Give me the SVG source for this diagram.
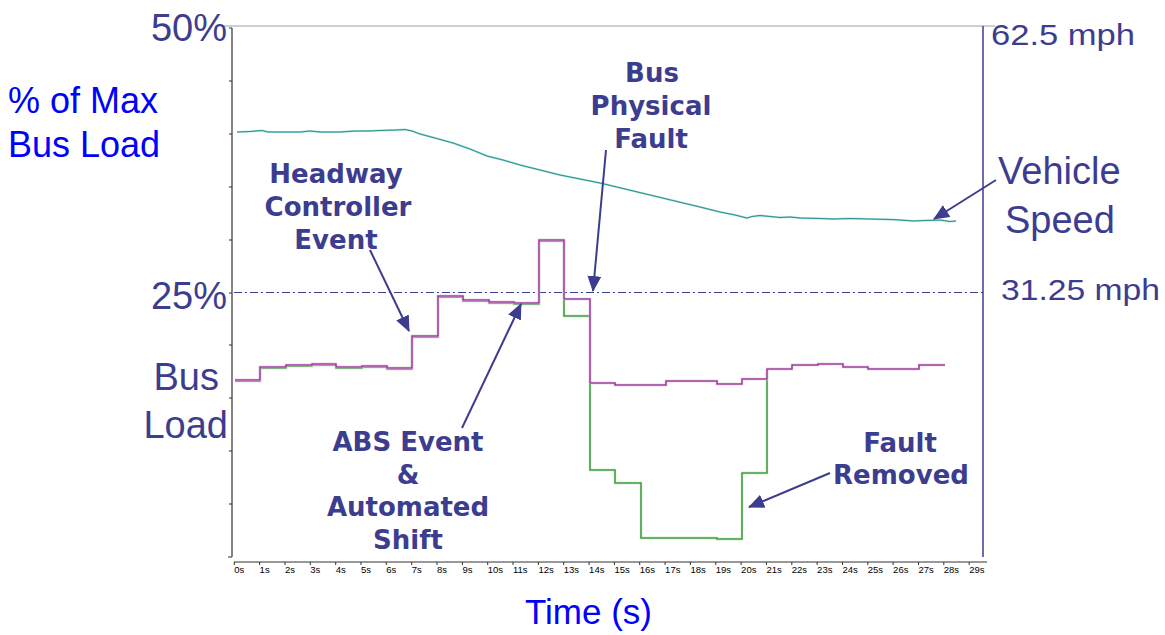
<svg xmlns="http://www.w3.org/2000/svg" width="1165" height="635" viewBox="0 0 1165 635">
<defs>
<style>
.lbl{font-family:"Liberation Sans",Arial,sans-serif;fill:#3d3d8f}
.blue{font-family:"Liberation Sans",Arial,sans-serif;fill:#0000ff}
.ann{font-family:"DejaVu Sans",Verdana,sans-serif;font-weight:bold;font-size:26px;fill:#3d3d8f;text-anchor:middle}
.tk{font-family:"Liberation Sans",Arial,sans-serif;font-size:9.5px;fill:#000}
.arrow{stroke:#3d3d8f;stroke-width:2;fill:none;marker-end:url(#ah)}
</style>
<marker id="ah" viewBox="0 0 16 14" refX="15" refY="7" markerWidth="16" markerHeight="14" markerUnits="userSpaceOnUse" orient="auto">
<path d="M0,0 L16,7 L0,14 Z" fill="#3d3d8f"/>
</marker>
</defs>
<rect width="1165" height="635" fill="#fff"/>

<g id="axes">
<line x1="223" y1="26" x2="995" y2="26" stroke="#cfcfcf" stroke-width="2"/>
<line x1="232" y1="28" x2="232" y2="557" stroke="#333" stroke-width="1.2"/>
<g stroke="#333" stroke-width="1">
<line x1="229" y1="28" x2="232" y2="28"/><line x1="229" y1="81" x2="232" y2="81"/><line x1="229" y1="134" x2="232" y2="134"/><line x1="229" y1="187" x2="232" y2="187"/><line x1="229" y1="240" x2="232" y2="240"/><line x1="229" y1="293" x2="232" y2="293"/><line x1="229" y1="345" x2="232" y2="345"/><line x1="229" y1="398" x2="232" y2="398"/><line x1="229" y1="451" x2="232" y2="451"/><line x1="229" y1="504" x2="232" y2="504"/><line x1="228" y1="557" x2="232" y2="557"/>
</g>
<line x1="983" y1="26" x2="983" y2="557" stroke="#3d3d8f" stroke-width="1.5"/>
<line x1="234" y1="562" x2="987" y2="562" stroke="#333" stroke-width="1"/>
<g stroke="#333" stroke-width="1">
<line x1="234.3" y1="562" x2="234.3" y2="565"/><line x1="259.6" y1="562" x2="259.6" y2="565"/><line x1="285" y1="562" x2="285" y2="565"/><line x1="310.3" y1="562" x2="310.3" y2="565"/><line x1="335.7" y1="562" x2="335.7" y2="565"/><line x1="361" y1="562" x2="361" y2="565"/><line x1="386.3" y1="562" x2="386.3" y2="565"/><line x1="411.7" y1="562" x2="411.7" y2="565"/><line x1="437" y1="562" x2="437" y2="565"/><line x1="462.4" y1="562" x2="462.4" y2="565"/><line x1="487.7" y1="562" x2="487.7" y2="565"/><line x1="513" y1="562" x2="513" y2="565"/><line x1="538.4" y1="562" x2="538.4" y2="565"/><line x1="563.7" y1="562" x2="563.7" y2="565"/><line x1="589.1" y1="562" x2="589.1" y2="565"/><line x1="614.4" y1="562" x2="614.4" y2="565"/><line x1="639.7" y1="562" x2="639.7" y2="565"/><line x1="665.1" y1="562" x2="665.1" y2="565"/><line x1="690.4" y1="562" x2="690.4" y2="565"/><line x1="715.8" y1="562" x2="715.8" y2="565"/><line x1="741.1" y1="562" x2="741.1" y2="565"/><line x1="766.4" y1="562" x2="766.4" y2="565"/><line x1="791.8" y1="562" x2="791.8" y2="565"/><line x1="817.1" y1="562" x2="817.1" y2="565"/><line x1="842.5" y1="562" x2="842.5" y2="565"/><line x1="867.8" y1="562" x2="867.8" y2="565"/><line x1="893.1" y1="562" x2="893.1" y2="565"/><line x1="918.5" y1="562" x2="918.5" y2="565"/><line x1="943.8" y1="562" x2="943.8" y2="565"/><line x1="969.2" y1="562" x2="969.2" y2="565"/>
</g>
<g class="tk">
<text x="234.3" y="573">0s</text><text x="259.6" y="573">1s</text><text x="285" y="573">2s</text><text x="310.3" y="573">3s</text><text x="335.7" y="573">4s</text><text x="361" y="573">5s</text><text x="386.3" y="573">6s</text><text x="411.7" y="573">7s</text><text x="437" y="573">8s</text><text x="462.4" y="573">9s</text><text x="487.7" y="573">10s</text><text x="513" y="573">11s</text><text x="538.4" y="573">12s</text><text x="563.7" y="573">13s</text><text x="589.1" y="573">14s</text><text x="614.4" y="573">15s</text><text x="639.7" y="573">16s</text><text x="665.1" y="573">17s</text><text x="690.4" y="573">18s</text><text x="715.8" y="573">19s</text><text x="741.1" y="573">20s</text><text x="766.4" y="573">21s</text><text x="791.8" y="573">22s</text><text x="817.1" y="573">23s</text><text x="842.5" y="573">24s</text><text x="867.8" y="573">25s</text><text x="893.1" y="573">26s</text><text x="918.5" y="573">27s</text><text x="943.8" y="573">28s</text><text x="969.2" y="573">29s</text>
</g>
<line x1="234" y1="292.5" x2="983" y2="292.5" stroke="#3d3d8f" stroke-width="1.2" stroke-dasharray="8 3 2 3"/>
</g>

<g id="vehicle-speed-line">
<polyline fill="none" stroke="#a8dcda" stroke-width="2.2" points="237,132 250,131.5 262,130.5 268,132 300,132 310,131 320,132 340,132 355,131 370,131 380,130.5 395,130 405,129.5 412,131 420,134 435,138 453,143 470,149 487,156 503,160 520,165 540,170 560,175 580,179 600,183 625,189 650,195 675,201 700,207 720,212 735,215 747,218 752,216.5 760,215.5 770,216.5 780,217.5 790,217 800,218 820,218.5 833,219 850,218.5 870,219 890,219.5 900,220 913,221 925,220.5 940,220 950,221.5 956,221"/>
<polyline fill="none" stroke="#26928f" stroke-width="1" points="237,132 250,131.5 262,130.5 268,132 300,132 310,131 320,132 340,132 355,131 370,131 380,130.5 395,130 405,129.5 412,131 420,134 435,138 453,143 470,149 487,156 503,160 520,165 540,170 560,175 580,179 600,183 625,189 650,195 675,201 700,207 720,212 735,215 747,218 752,216.5 760,215.5 770,216.5 780,217.5 790,217 800,218 820,218.5 833,219 850,218.5 870,219 890,219.5 900,220 913,221 925,220.5 940,220 950,221.5 956,221"/>
</g>

<g id="bus-load-lines">
<path fill="none" stroke="#b5ddb5" stroke-width="2.4" d="M235,381 H260 V368 H286 V366 H312 V365 H336 V368 H362 V367 H387 V369 H412 V337 H438 V297 H463 V301 H489 V303 H514 V304 H539 V241 H564 V316 H590 V470 H615 V483 H641 V538 H717 V539 H742 V473 H767 V370"/>
<path fill="none" stroke="#1f8a1f" stroke-width="1.1" d="M235,381 H260 V368 H286 V366 H312 V365 H336 V368 H362 V367 H387 V369 H412 V337 H438 V297 H463 V301 H489 V303 H514 V304 H539 V241 H564 V316 H590 V470 H615 V483 H641 V538 H717 V539 H742 V473 H767 V370"/>
<path fill="none" stroke="#dcb5dc" stroke-width="2.4" d="M235,380 H260 V367 H286 V365 H312 V364 H336 V367 H362 V366 H387 V368 H412 V336 H438 V296 H463 V300 H489 V302 H514 V303 H539 V240 H564 V299 H590 V383 H615 V385 H666 V381 H717 V384 H742 V379 H767 V369 H792 V365 H818 V364 H843 V367 H868 V369 H919 V365 H945"/>
<path fill="none" stroke="#8a1a8a" stroke-width="1.1" d="M235,380 H260 V367 H286 V365 H312 V364 H336 V367 H362 V366 H387 V368 H412 V336 H438 V296 H463 V300 H489 V302 H514 V303 H539 V240 H564 V299 H590 V383 H615 V385 H666 V381 H717 V384 H742 V379 H767 V369 H792 V365 H818 V364 H843 V367 H868 V369 H919 V365 H945"/>
</g>

<g id="axis-labels">
<text class="lbl" x="227" y="41" font-size="38" text-anchor="end">50%</text>
<text class="lbl" x="227" y="309" font-size="38" text-anchor="end">25%</text>
<text class="lbl" x="219" y="390" font-size="38" text-anchor="end">Bus</text>
<text class="lbl" x="228" y="438" font-size="38" text-anchor="end">Load</text>
<text class="blue" x="8" y="113" font-size="36">% of Max</text>
<text class="blue" x="8" y="157" font-size="36">Bus Load</text>
<text class="blue" x="525" y="624" font-size="35">Time (s)</text>
<text class="lbl" x="991" y="45" font-size="30" textLength="144" lengthAdjust="spacingAndGlyphs">62.5 mph</text>
<text class="lbl" x="998" y="184" font-size="38">Vehicle</text>
<text class="lbl" x="1005" y="233" font-size="38">Speed</text>
<text class="lbl" x="1001" y="300" font-size="30" textLength="159" lengthAdjust="spacingAndGlyphs">31.25 mph</text>
</g>

<g id="connectors">
<line class="arrow" x1="370" y1="250" x2="409" y2="331"/>
<line class="arrow" x1="606" y1="150" x2="593" y2="291"/>
<line class="arrow" x1="462" y1="428" x2="521" y2="304"/>
<line class="arrow" x1="830" y1="473" x2="749" y2="507"/>
<line class="arrow" x1="996" y1="180" x2="934" y2="219"/>
</g>

<g id="headway-note">
<text class="ann" x="336" y="183">Headway</text>
<text class="ann" x="338" y="216">Controller</text>
<text class="ann" x="336" y="249">Event</text>
</g>
<g id="bus-fault-note">
<text class="ann" x="652" y="82">Bus</text>
<text class="ann" x="651" y="115">Physical</text>
<text class="ann" x="651" y="148">Fault</text>
</g>
<g id="abs-note">
<text class="ann" x="408" y="451">ABS Event</text>
<text class="ann" x="408" y="484">&amp;</text>
<text class="ann" x="408" y="516">Automated</text>
<text class="ann" x="408" y="549">Shift</text>
</g>
<g id="fault-removed-note">
<text class="ann" x="900" y="452">Fault</text>
<text class="ann" x="901" y="484">Removed</text>
</g>
</svg>
